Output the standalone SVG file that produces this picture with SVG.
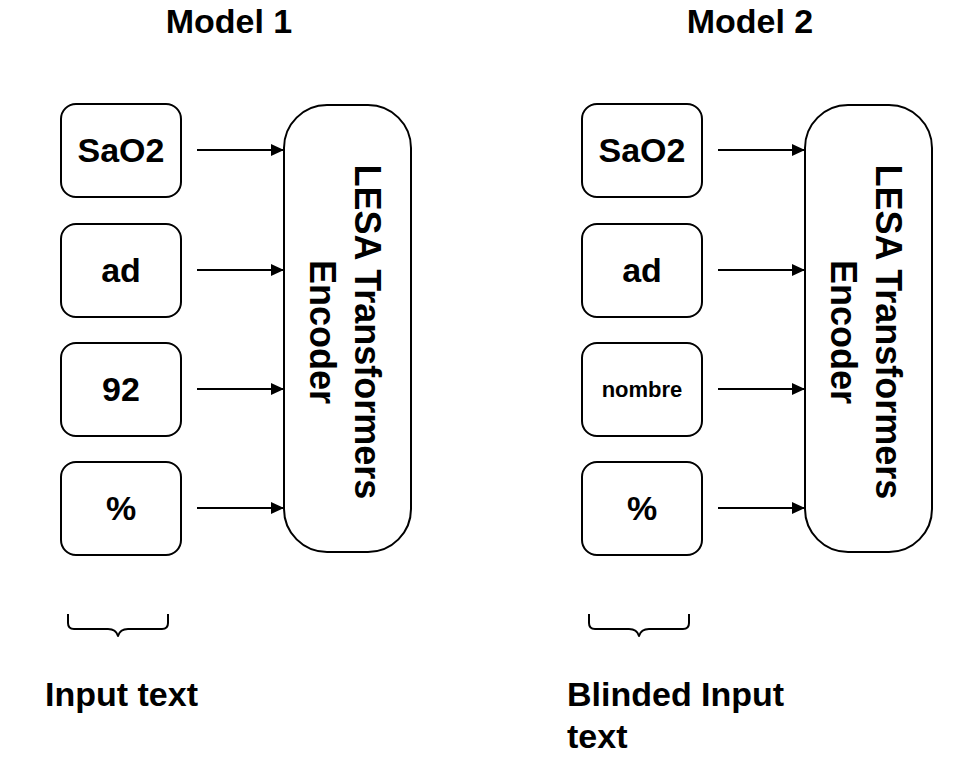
<svg xmlns="http://www.w3.org/2000/svg" width="966" height="764" viewBox="0 0 966 764">
<style>
  .box { fill: #fff; stroke: #000; stroke-width: 2; }
  .lbl { font-family: "Liberation Sans", Arial, Helvetica, sans-serif; font-size: 34px; font-weight: bold; fill: #000; text-anchor: middle; }
  .small { font-size: 22px; }
  .enc { font-family: "Liberation Sans", Arial, Helvetica, sans-serif; font-size: 36px; font-weight: bold; fill: #000; text-anchor: middle; }
  .title { font-family: "Liberation Sans", Arial, Helvetica, sans-serif; font-size: 34px; font-weight: bold; fill: #000; }
  .mid { text-anchor: middle; }
  .conn { stroke: #000; stroke-width: 2; fill: none; }
  .brace { stroke: #000; stroke-width: 2; fill: none; stroke-linejoin: round; }
</style>
<defs>
  <marker id="arr" viewBox="0 0 13 12" refX="13" refY="6" markerWidth="13" markerHeight="12" markerUnits="userSpaceOnUse" orient="auto">
    <path d="M0,0 L13,6 L0,12 Z" fill="#000"/>
  </marker>
</defs>
<rect width="966" height="764" fill="#fff"/>

<text class="title mid" x="229" y="33">Model 1</text>
<text class="title mid" x="750" y="33">Model 2</text>

<g id="m1-sao2"><rect class="box" x="61" y="104" width="120" height="93" rx="15"/><text class="lbl" x="121" y="162">SaO2</text></g>
<g id="m1-ad"><rect class="box" x="61" y="224" width="120" height="93" rx="15"/><text class="lbl" x="121" y="282">ad</text></g>
<g id="m1-92"><rect class="box" x="61" y="343" width="120" height="93" rx="15"/><text class="lbl" x="121" y="401">92</text></g>
<g id="m1-pct"><rect class="box" x="61" y="462" width="120" height="93" rx="15"/><text class="lbl" x="121" y="520">%</text></g>
<g id="m1-encoder"><rect class="box" x="284" y="105" width="127" height="447" rx="43"/>
  <text class="enc" transform="translate(355,332) rotate(90)">LESA Transformers</text>
  <text class="enc" transform="translate(310,332) rotate(90)">Encoder</text>
</g>

<g id="m2-sao2"><rect class="box" x="582" y="104" width="120" height="93" rx="15"/><text class="lbl" x="642" y="162">SaO2</text></g>
<g id="m2-ad"><rect class="box" x="582" y="224" width="120" height="93" rx="15"/><text class="lbl" x="642" y="282">ad</text></g>
<g id="m2-nombre"><rect class="box" x="582" y="343" width="120" height="93" rx="15"/><text class="lbl small" x="642" y="397">nombre</text></g>
<g id="m2-pct"><rect class="box" x="582" y="462" width="120" height="93" rx="15"/><text class="lbl" x="642" y="520">%</text></g>
<g id="m2-encoder"><rect class="box" x="805" y="105" width="127" height="447" rx="43"/>
  <text class="enc" transform="translate(876,332) rotate(90)">LESA Transformers</text>
  <text class="enc" transform="translate(831,332) rotate(90)">Encoder</text>
</g>

<g id="connectors">
  <line class="conn" x1="197" y1="150" x2="284" y2="150" marker-end="url(#arr)"/>
  <line class="conn" x1="197" y1="270" x2="284" y2="270" marker-end="url(#arr)"/>
  <line class="conn" x1="197" y1="389" x2="284" y2="389" marker-end="url(#arr)"/>
  <line class="conn" x1="197" y1="508" x2="284" y2="508" marker-end="url(#arr)"/>
  <line class="conn" x1="718" y1="150" x2="805" y2="150" marker-end="url(#arr)"/>
  <line class="conn" x1="718" y1="270" x2="805" y2="270" marker-end="url(#arr)"/>
  <line class="conn" x1="718" y1="389" x2="805" y2="389" marker-end="url(#arr)"/>
  <line class="conn" x1="718" y1="508" x2="805" y2="508" marker-end="url(#arr)"/>
</g>

<g id="brace-1"><path class="brace" d="M68,614 L68,623 Q68,629 74,629 L108,629 Q116,629 118,636 Q120,629 128,629 L162,629 Q168,629 168,623 L168,614"/></g>
<g id="brace-2"><path class="brace" d="M589,614 L589,623 Q589,629 595,629 L629,629 Q637,629 639,636 Q641,629 649,629 L683,629 Q689,629 689,623 L689,614"/></g>

<text class="title" x="45" y="706">Input text</text>
<text class="title" x="567" y="706">Blinded Input</text>
<text class="title" x="567" y="748">text</text>
</svg>
